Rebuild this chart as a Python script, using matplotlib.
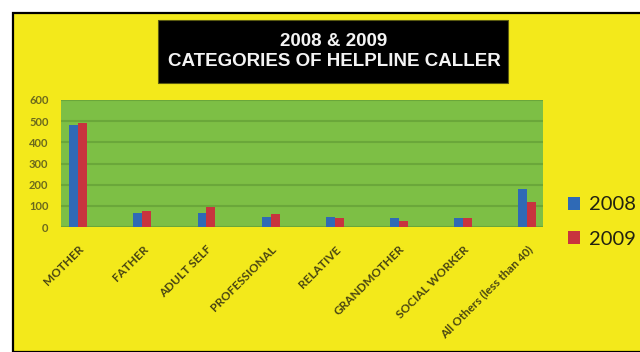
import matplotlib
matplotlib.use("Agg")
import matplotlib.pyplot as plt
from matplotlib.patches import Rectangle
import numpy as np

# helpline caller categories, counts per year
categories = ["MOTHER", "FATHER", "ADULT SELF", "PROFESSIONAL", "RELATIVE",
              "GRANDMOTHER", "SOCIAL WORKER", "All Others (less than 40)"]
calls_2008 = [482, 65, 65, 46, 46, 44, 41, 180]
calls_2009 = [493, 77, 93, 60, 41, 28, 41, 117]
yticks = [0, 100, 200, 300, 400, 500, 600]

yellow = "#f3e91b"
green = "#7dbf45"
grid_green = "#6aa73a"
blue = "#2f6ab6"
red = "#c8343e"

fig = plt.figure(figsize=(6.4, 3.52), dpi=100, facecolor="white")

# yellow panel with a black frame
fig.patches.append(Rectangle((13 / 640, 0), 1, 1 - 13 / 352, transform=fig.transFigure,
                             facecolor=yellow, edgecolor="black", linewidth=1.6, zorder=-2))

# black title box
fig.patches.append(Rectangle((158 / 640, 1 - 83 / 352), 350 / 640, 63 / 352,
                             transform=fig.transFigure, facecolor="black",
                             edgecolor="#5a5a10", linewidth=0.8, zorder=-1))
fig.text(334 / 640, 1 - 41 / 352, "2008 & 2009", color="#f4f4f4", ha="center", va="center",
         fontsize=13.5, fontweight="bold", family="Liberation Sans")
fig.text(334 / 640, 1 - 62 / 352, "CATEGORIES OF HELPLINE CALLER", color="#f4f4f4",
         ha="center", va="center", fontsize=13.5, fontweight="bold", family="Liberation Sans")

ax = fig.add_axes([61 / 640, 1 - 227 / 352, 482 / 640, 127 / 352])
ax.set_facecolor(green)

x = np.arange(len(categories))
w = 0.14
ax.bar(x - w / 2, calls_2008, w, color=blue, label="2008", zorder=3)
ax.bar(x + w / 2, calls_2009, w, color=red, label="2009", zorder=3)

ax.set_ylim(0, 600)
ax.set_xlim(-0.27, 7.25)
ax.set_yticks(yticks)
ax.set_yticklabels([str(v) for v in yticks], fontsize=8, color="#6b691d",
                   family="Lato", fontweight="bold")
ax.set_xticks(x)
ax.set_xticklabels(categories, rotation=45, ha="right", rotation_mode="anchor",
                   fontsize=8.5, fontweight="bold", color="#4a4612", family="Lato")
ax.tick_params(length=0)
ax.tick_params(axis="y", pad=9)
ax.tick_params(axis="x", pad=12)
ax.yaxis.grid(True, color=grid_green, linewidth=1.5, zorder=1)
ax.set_axisbelow(True)
for s in ax.spines.values():
    s.set_visible(False)

fig.legend(loc="center left", bbox_to_anchor=(568 / 640, 1 - 222 / 352),
           frameon=False, borderpad=0, borderaxespad=0,
           handlelength=0.6, handleheight=0.6, handletextpad=0.45,
           labelspacing=0.85, prop={"family": "Lato", "size": 14.5},
           labelcolor="#222210")

fig.savefig("out.png", dpi=100, facecolor="white")
